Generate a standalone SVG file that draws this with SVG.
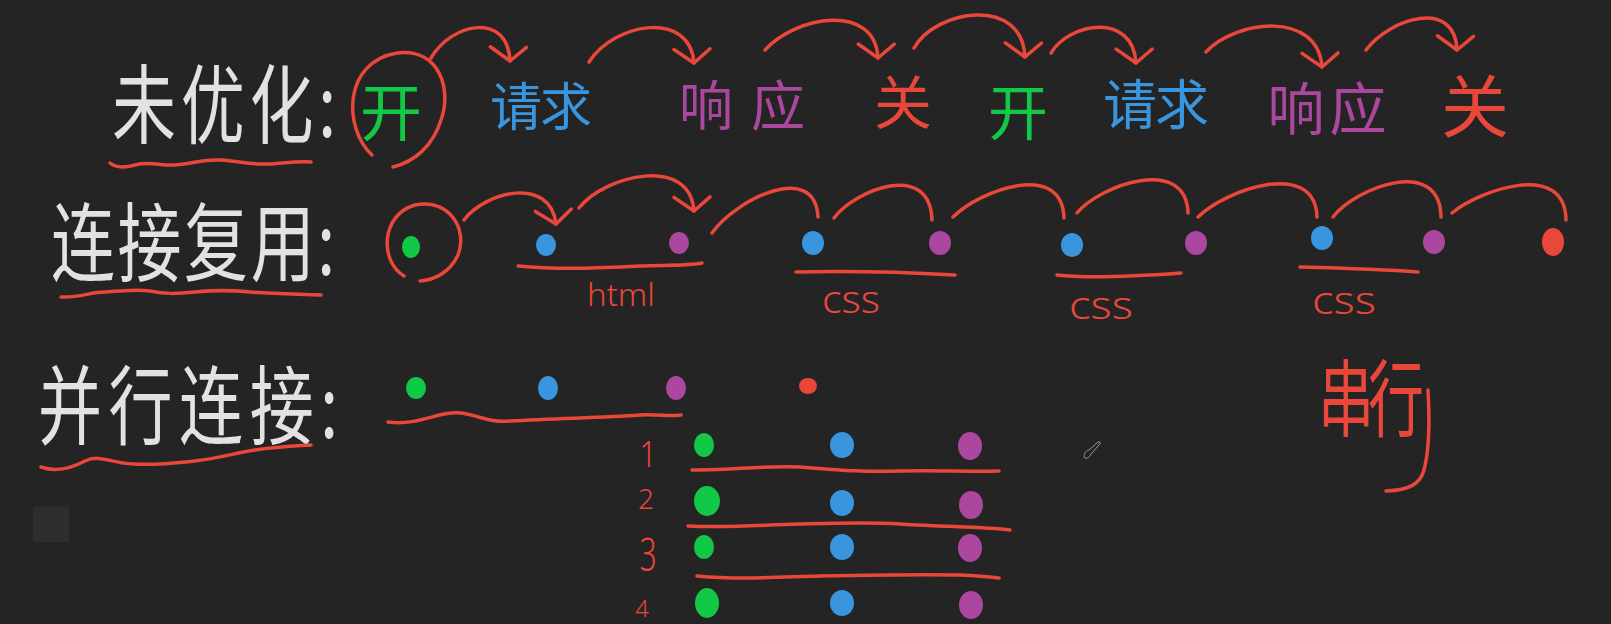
<svg xmlns="http://www.w3.org/2000/svg" width="1611" height="624" viewBox="0 0 1611 624">
<style>
.bg{fill:#242424}
.r{fill:none;stroke:#e9473a;stroke-width:3.5;stroke-linecap:round;stroke-linejoin:round}
.w{fill:#e2e2e2;font-family:"Noto Sans CJK SC","Noto Sans",sans-serif}
.cjk{font-family:"Noto Sans CJK SC","Noto Sans",sans-serif}
.lat{font-family:"Noto Sans","DejaVu Sans",sans-serif;font-weight:300}
.tr{fill:#e9473a}
.tg{fill:#12c947}
.tb{fill:#3895de}
.tp{fill:#ac479f}
.dg{fill:#12c947}
.db{fill:#3895de}
.dp{fill:#ac479f}
.dr{fill:#e9473a}
</style>
<defs>
<marker id="ah" markerUnits="userSpaceOnUse" markerWidth="50" markerHeight="50" viewBox="-25 -25 50 50" refX="0" refY="0" orient="auto" overflow="visible">
<path d="M-13,-17 L0,0 L-15,19" fill="none" stroke="#e9473a" stroke-width="3.5" stroke-linecap="round" stroke-linejoin="round"/>
</marker>
</defs>
<rect class="bg" x="0" y="0" width="1611" height="624"/>
<rect x="33" y="507" width="36" height="35" fill="#2d2d2d"/>

<!-- row labels -->
<g id="label-unoptimized">
<text class="w" font-size="64" textLength="224" lengthAdjust="spacing" transform="translate(112,137) scale(1,1.35)">未优化:</text>
<path class="r" d="M110,163 C116,168 124,168 135,165 C150,161 160,166 175,165 C195,163 205,159 220,160 C240,161 250,165 268,164 C285,163 298,161 311,162"/>
</g>
<g id="label-reuse">
<text class="w" font-size="64" textLength="284" lengthAdjust="spacing" transform="translate(51,275) scale(1,1.35)">连接复用:</text>
<path class="r" d="M61,297 C80,298 90,292 105,292 C125,291 135,289 150,291 C165,294 175,294 195,292 C215,290 230,290 250,292 C275,294 295,294 321,295"/>
</g>
<g id="label-parallel">
<text class="w" font-size="64" textLength="300" lengthAdjust="spacing" transform="translate(38,438) scale(1,1.35)">并行连接:</text>
<path class="r" d="M41,467 C55,472 70,469 85,461 C100,454 110,463 133,464 C160,465 175,463 195,461 C220,458 235,453 255,450 C275,447 295,446 311,445"/>
</g>

<!-- row 1 -->
<g id="n1-open">
<path class="r" d="M372,155 C343,128 343,62 397,53 C440,48 452,90 441,120 C433,146 414,162 393,167"/>
<text class="cjk tg" x="391" y="136" font-size="62" text-anchor="middle">开</text>
</g>
<g id="n1-request"><text class="cjk tb" x="541" y="126" font-size="52" text-anchor="middle" textLength="102" lengthAdjust="spacing">请求</text></g>
<g id="n1-response"><text class="cjk tp" x="742" y="126" font-size="54" text-anchor="middle" textLength="126" lengthAdjust="spacing">响应</text></g>
<g id="n1-close"><text class="cjk tr" x="903" y="124" font-size="58" text-anchor="middle">关</text></g>
<g id="n1-open2"><text class="cjk tg" x="1018" y="135" font-size="60" text-anchor="middle">开</text></g>
<g id="n1-request2"><text class="cjk tb" x="1156" y="125" font-size="54" text-anchor="middle" textLength="106" lengthAdjust="spacing">请求</text></g>
<g id="n1-response2"><text class="cjk tp" x="1327" y="130" font-size="57" text-anchor="middle" textLength="119" lengthAdjust="spacing">响应</text></g>
<g id="n1-close2"><text class="cjk tr" x="1475" y="132" font-size="68" text-anchor="middle">关</text></g>

<!-- row 2 -->
<g id="n2-open">
<path class="r" d="M404,276 C380,262 380,215 415,205 C450,198 468,230 458,255 C450,272 435,280 420,281"/>
<ellipse class="dg" cx="411" cy="247" rx="9" ry="11"/>
</g>
<g id="n2-html">
<ellipse class="db" cx="546" cy="245" rx="10" ry="11"/>
<ellipse class="dp" cx="679" cy="243" rx="10" ry="11"/>
<path class="r" d="M518,266 C560,270 600,268 640,266 C665,265 685,266 702,263"/>
<text class="lat tr" x="621" y="306" font-size="32" text-anchor="middle" textLength="68" lengthAdjust="spacingAndGlyphs">html</text>
</g>
<g id="n2-css1">
<ellipse class="db" cx="813" cy="243" rx="11" ry="12"/>
<ellipse class="dp" cx="940" cy="243" rx="11" ry="12"/>
<path class="r" d="M796,272 C840,271 900,272 955,275"/>
<text class="lat tr" x="851" y="313" font-size="38" text-anchor="middle" textLength="58" lengthAdjust="spacingAndGlyphs">css</text>
</g>
<g id="n2-css2">
<ellipse class="db" cx="1072" cy="245" rx="11" ry="12"/>
<ellipse class="dp" cx="1196" cy="243" rx="11" ry="12"/>
<path class="r" d="M1057,275 C1090,279 1140,276 1181,273"/>
<text class="lat tr" x="1101" y="319" font-size="38" text-anchor="middle" textLength="64" lengthAdjust="spacingAndGlyphs">css</text>
</g>
<g id="n2-css3">
<ellipse class="db" cx="1322" cy="238" rx="11" ry="12"/>
<ellipse class="dp" cx="1434" cy="242" rx="11" ry="12"/>
<path class="r" d="M1300,267 C1340,268 1380,269 1418,272"/>
<text class="lat tr" x="1344" y="314" font-size="38" text-anchor="middle" textLength="64" lengthAdjust="spacingAndGlyphs">css</text>
</g>
<g id="n2-close"><ellipse class="dr" cx="1553" cy="242" rx="11" ry="14"/></g>

<!-- row 3 -->
<g id="n3-single">
<ellipse class="dg" cx="416" cy="388" rx="10" ry="11"/>
<ellipse class="db" cx="548" cy="388" rx="10" ry="12"/>
<ellipse class="dp" cx="676" cy="388" rx="10" ry="12"/>
<ellipse class="dr" cx="808" cy="386" rx="9" ry="8"/>
<path class="r" d="M388,422 C420,426 440,410 462,413 C480,416 490,423 510,421 C560,418 600,418 640,415 C660,414 670,417 681,415"/>
</g>
<g id="n3-grid">
<text class="lat tr" font-size="30" text-anchor="middle" transform="translate(648,467) scale(1,1.25)">1</text>
<text class="lat tr" font-size="28" text-anchor="middle" transform="translate(646,509)">2</text>
<text class="lat tr" font-size="30" text-anchor="middle" transform="translate(648,571) scale(1,1.5)">3</text>
<text class="lat tr" font-size="24" text-anchor="middle" transform="translate(642,617)">4</text>
<ellipse class="dg" cx="704" cy="445" rx="10" ry="12"/>
<ellipse class="db" cx="842" cy="445" rx="12" ry="13"/>
<ellipse class="dp" cx="970" cy="446" rx="12" ry="14"/>
<ellipse class="dg" cx="707" cy="501" rx="13" ry="15"/>
<ellipse class="db" cx="842" cy="503" rx="12" ry="13"/>
<ellipse class="dp" cx="971" cy="505" rx="12" ry="14"/>
<ellipse class="dg" cx="704" cy="547" rx="10" ry="12"/>
<ellipse class="db" cx="842" cy="547" rx="12" ry="13"/>
<ellipse class="dp" cx="970" cy="548" rx="12" ry="14"/>
<ellipse class="dg" cx="707" cy="603" rx="12" ry="15"/>
<ellipse class="db" cx="842" cy="603" rx="12" ry="13"/>
<ellipse class="dp" cx="971" cy="605" rx="12" ry="14"/>
<path class="r" d="M692,470 C730,471 760,465 800,467 C840,470 860,472 900,471 C940,470 970,472 999,471"/>
<path class="r" d="M688,526 C730,528 760,525 800,524 C840,523 870,522 900,524 C950,527 985,527 1010,530"/>
<path class="r" d="M697,576 C740,580 780,577 820,576 C870,575 920,574 960,575 C980,576 990,577 999,578"/>
</g>
<g id="n3-serial">
<text class="cjk tr" font-size="56" textLength="106" lengthAdjust="spacing" transform="translate(1318,430) scale(1,1.5)">串行</text>
<path class="r" d="M1428,390 C1430,425 1428,455 1424,470 C1420,484 1410,490 1386,491"/>
</g>
<g id="cursor">
<path d="M1085,458 C1083,455 1085,451 1089,450 L1098,442 C1100,441 1101,443 1099,445 L1091,454 C1090,457 1087,459 1085,458 Z" fill="none" stroke="#9a9a9a" stroke-width="1"/>
</g>

<!-- connectors -->
<g id="connectors" class="r">
<path class="r" marker-end="url(#ah)" d="M431,58 C452,22 508,12 510,61"/>
<path class="r" marker-end="url(#ah)" d="M589,62 C615,22 690,10 694,63"/>
<path class="r" marker-end="url(#ah)" d="M765,50 C795,16 875,2 878,58"/>
<path class="r" marker-end="url(#ah)" d="M914,48 C935,10 1022,-5 1025,57"/>
<path class="r" marker-end="url(#ah)" d="M1051,53 C1070,22 1133,12 1136,63"/>
<path class="r" marker-end="url(#ah)" d="M1206,52 C1235,20 1318,10 1322,67"/>
<path class="r" marker-end="url(#ah)" d="M1366,50 C1390,18 1455,-2 1457,50"/>
<path class="r" marker-end="url(#ah)" d="M464,220 C485,192 550,175 556,224"/>
<path class="r" marker-end="url(#ah)" d="M579,208 C605,175 690,155 694,211"/>
<path class="r" d="M712,233 C735,200 815,160 818,217"/>
<path class="r" d="M834,218 C855,190 930,160 932,220"/>
<path class="r" d="M953,217 C980,190 1062,160 1064,218"/>
<path class="r" d="M1077,213 C1100,185 1186,155 1188,213"/>
<path class="r" d="M1198,217 C1225,190 1315,158 1317,217"/>
<path class="r" d="M1333,217 C1355,188 1440,155 1441,217"/>
<path class="r" d="M1452,213 C1480,190 1565,160 1566,220"/>
</g>
</svg>
